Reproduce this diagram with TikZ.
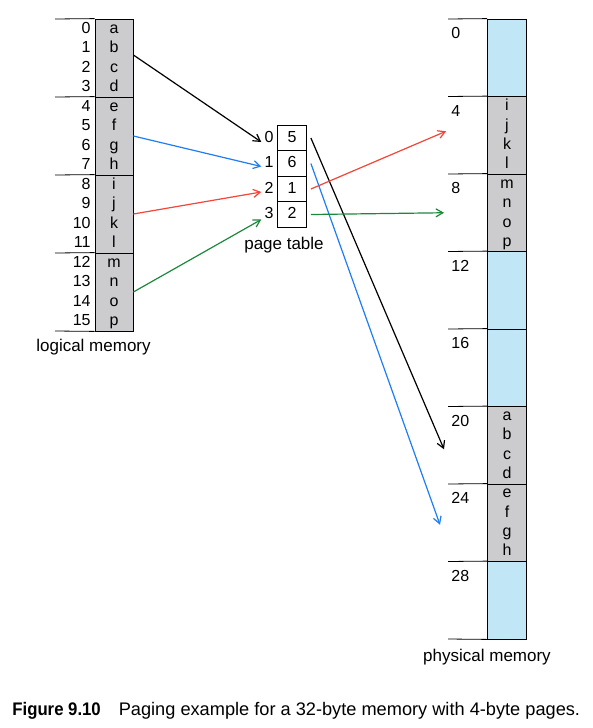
\documentclass[tikz,border=0pt]{standalone}
\usepackage{fontspec}
\setmainfont{Liberation Sans}
\usetikzlibrary{arrows.meta}

\definecolor{memgray}{RGB}{204,204,206}
\definecolor{memblue}{RGB}{193,230,246}
\definecolor{mapblue}{RGB}{30,125,245}
\definecolor{mapred}{RGB}{245,68,56}
\definecolor{mapgreen}{RGB}{28,136,60}

\tikzset{
  txt/.style={font=\fontsize{16}{18}\selectfont, inner sep=0pt, text height=11.5pt, text depth=3pt},
  memlabel/.style={font=\fontsize{17}{20}\selectfont, inner sep=0pt},
  lpage/.style={draw, fill=memgray, minimum width=38pt, minimum height=78pt, inner sep=0pt},
  pframe/.style={draw, minimum width=39pt, minimum height=77.5pt, inner sep=0pt},
  entry/.style={txt, draw, minimum width=29pt, minimum height=25.5pt, inner sep=0pt},
  map/.style={line width=1.2pt, -{Straight Barb[angle=60:8pt]}},
}

\begin{document}
\begin{tikzpicture}[x=1pt,y=-1pt,line width=0.8pt]
\useasboundingbox (0,0) rectangle (593,728);

% logical memory
\foreach \p in {0,...,3} {
  \node[lpage] (lp\p) at (114,{58+78*\p}) {};
  \draw (55,{19+78*\p}) -- (lp\p.north west);
}
\draw (55,331) -- (lp3.south west);
\foreach \c [count=\i from 0] in {a,...,p} {
  \node[txt] (lc\i) at (114,{29+19.5*\i}) {\c};
  \node[txt, anchor=east] (ln\i) at (91,{29+19.5*\i}) {\i};
}
\node[memlabel] (lname) at (93.5,347) {logical memory};

% page table
\foreach \f [count=\i from 0] in {5,6,1,2} {
  \node[entry] (pt\i) at (292,{138+25.5*\i}) {\f};
  \node[txt, anchor=east] (pi\i) at (274,{138+25.5*\i}) {\i};
}
\node[memlabel] (ptname) at (284,245) {page table};

% physical memory
\foreach \f/\col in {0/memblue,1/memgray,2/memgray,3/memblue,4/memblue,5/memgray,6/memgray,7/memblue} {
  \pgfmathtruncatemacro\addr{4*\f}
  \node[pframe, fill=\col] (pf\f) at (507,{57.75+77.5*\f}) {};
  \draw (448,{19+77.5*\f}) -- (pf\f.north west);
  \coordinate (pl\f) at (444,{57.75+77.5*\f});
  \node[txt, anchor=north west] (pa\f) at (451,{27+77.5*\f}) {\addr};
}
\draw (448,639) -- (pf7.south west);
\foreach \c [count=\i from 0] in {i,...,p}
  \node[txt] at (507,{106.5+19.375*\i}) {\c};
\foreach \c [count=\i from 0] in {a,...,h}
  \node[txt] at (507,{416+19.375*\i}) {\c};
\node[memlabel] (pname) at (487,657) {physical memory};

% page -> page table
\draw[map] (lp0.east) ++(0,-3) -- ([xshift=-3pt,yshift=-4pt]pi0.west);
\draw[map, mapblue] (lp1.east) -- ([xshift=-3pt,yshift=-3pt]pi1.west);
\draw[map, mapred] (lp2.east) -- ([xshift=-3pt,yshift=-3pt]pi2.west);
\draw[map, mapgreen] (lp3.east) -- ([xshift=-3pt,yshift=-5pt]pi3.west);

% page table -> frame
\draw[map] ([xshift=4pt]pt0.east) -- ([yshift=-4pt]pl5);
\draw[map, mapblue] ([xshift=4pt]pt1.east) -- ([xshift=-4pt,yshift=-2pt]pl6);
\draw[map, mapred] ([xshift=4pt]pt2.east) -- ([xshift=2pt,yshift=4pt]pl1);
\draw[map, mapgreen] ([xshift=4pt]pt3.east) -- (pl2);

% caption
\node[anchor=base west, inner sep=0pt, font=\fontsize{18.2}{20}\selectfont] (cap) at (12,715)
  {\scalebox{0.92}[1]{\textbf{Figure 9.10}}\hspace{18pt}Paging example for a 32-byte memory with 4-byte pages.};
\end{tikzpicture}
\end{document}
